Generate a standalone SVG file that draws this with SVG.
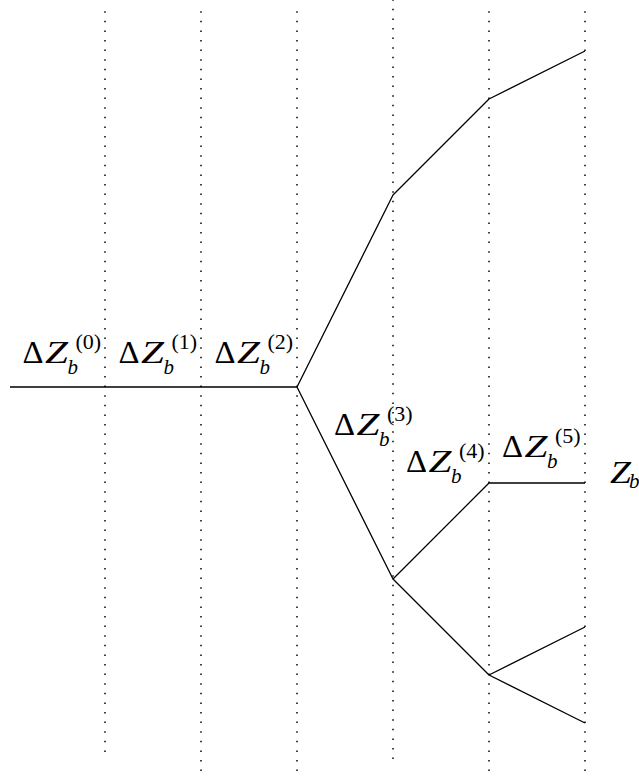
<svg xmlns="http://www.w3.org/2000/svg" width="639" height="778" viewBox="0 0 639 778">
<style>
.grid{stroke:#000;stroke-width:1.5;stroke-dasharray:1.5 8.1;fill:none}
.edge{stroke:#000;stroke-width:1.3;fill:none;stroke-linejoin:round}
text{font-family:"Liberation Serif","Times New Roman",serif;fill:#000}
.big{font-size:31px}
.it{font-style:italic}
.sub{font-size:21px;font-style:italic}
.sup{font-size:22px}
</style>
<rect width="639" height="778" fill="#fff"/>
<g id="grid">
<line class="grid" x1="105" y1="11.2" x2="105" y2="752"/>
<line class="grid" x1="201" y1="11.2" x2="201" y2="772"/>
<line class="grid" x1="297" y1="11.2" x2="297" y2="772"/>
<line class="grid" x1="393" y1="-0.8" x2="393" y2="759"/>
<line class="grid" x1="489" y1="11.2" x2="489" y2="772"/>
<line class="grid" x1="585" y1="11.2" x2="585" y2="772"/>
</g>
<g id="connectors">
<polyline class="edge" points="10,387 297,387 393,195 489,99 585,51"/>
<polyline class="edge" points="297,387 393,579 489,483 585,483"/>
<polyline class="edge" points="393,579 489,675 585,627"/>
<line class="edge" x1="489" y1="675" x2="585" y2="723"/>
</g>
<g id="label0">
<text class="big" x="22.5" y="363" textLength="21" lengthAdjust="spacingAndGlyphs">Δ</text>
<text class="big it" x="45" y="363" textLength="23" lengthAdjust="spacingAndGlyphs">Z</text>
<text class="sub" x="67.5" y="374">b</text>
<text class="sup" x="75.5" y="349">(0)</text>
</g>
<g id="label1">
<text class="big" x="118.5" y="363" textLength="21" lengthAdjust="spacingAndGlyphs">Δ</text>
<text class="big it" x="141" y="363" textLength="23" lengthAdjust="spacingAndGlyphs">Z</text>
<text class="sub" x="163.5" y="374">b</text>
<text class="sup" x="171.5" y="349">(1)</text>
</g>
<g id="label2">
<text class="big" x="214.5" y="363" textLength="21" lengthAdjust="spacingAndGlyphs">Δ</text>
<text class="big it" x="237" y="363" textLength="23" lengthAdjust="spacingAndGlyphs">Z</text>
<text class="sub" x="259.5" y="374">b</text>
<text class="sup" x="267.5" y="349">(2)</text>
</g>
<g id="label3">
<text class="big" x="334" y="435" textLength="21" lengthAdjust="spacingAndGlyphs">Δ</text>
<text class="big it" x="356.5" y="435" textLength="23" lengthAdjust="spacingAndGlyphs">Z</text>
<text class="sub" x="379" y="446">b</text>
<text class="sup" x="387" y="421">(3)</text>
</g>
<g id="label4">
<text class="big" x="406" y="472" textLength="21" lengthAdjust="spacingAndGlyphs">Δ</text>
<text class="big it" x="428.5" y="472" textLength="23" lengthAdjust="spacingAndGlyphs">Z</text>
<text class="sub" x="451" y="483">b</text>
<text class="sup" x="459" y="458">(4)</text>
</g>
<g id="label5">
<text class="big" x="502" y="457" textLength="21" lengthAdjust="spacingAndGlyphs">Δ</text>
<text class="big it" x="524.5" y="457" textLength="23" lengthAdjust="spacingAndGlyphs">Z</text>
<text class="sub" x="547" y="468">b</text>
<text class="sup" x="555" y="443">(5)</text>
</g>
<g id="labelZ">
<text class="big it" x="610" y="483" textLength="21" lengthAdjust="spacingAndGlyphs">Z</text>
<text class="sub" x="629" y="488" font-size="19">b</text>
</g>
</svg>
